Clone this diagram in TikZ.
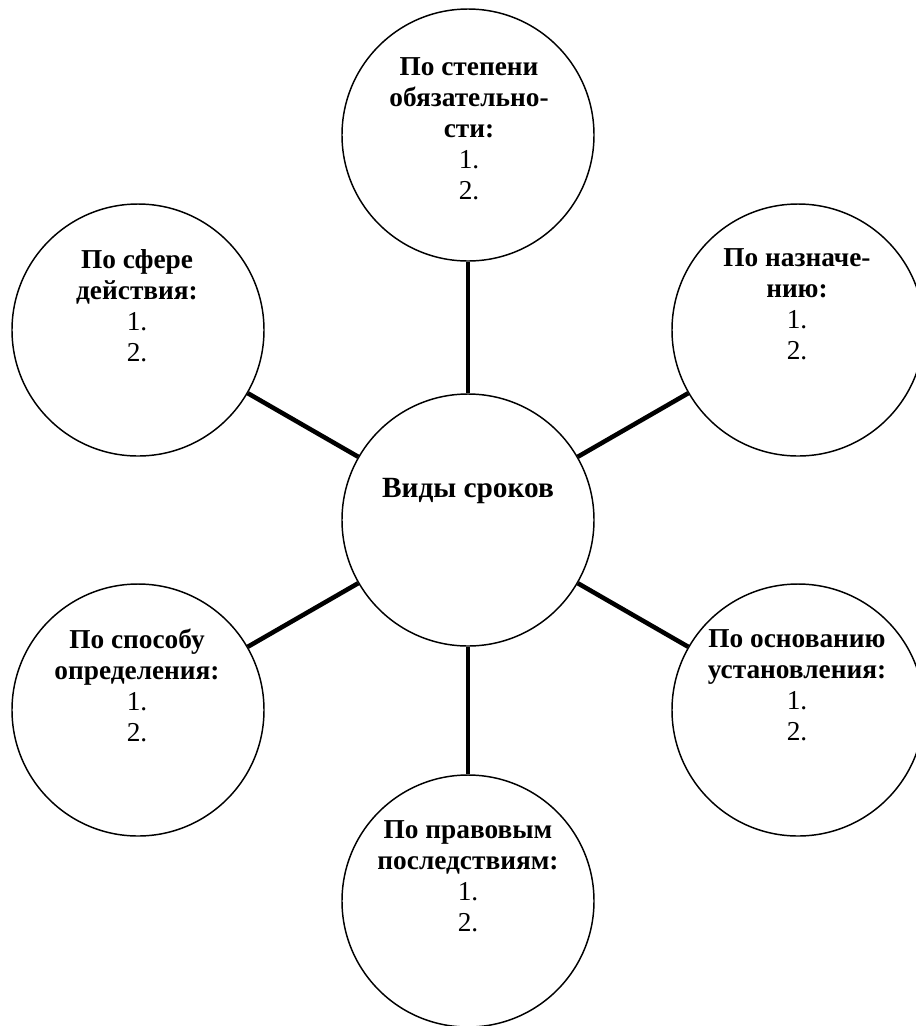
\documentclass[tikz,border=0pt]{standalone}
\usepackage{fontspec}
\setmainfont{Liberation Serif}
\newfontfamily\tnr{Liberation Serif}
\begin{document}
\begin{tikzpicture}[x=0.75pt,y=-0.75pt,
  ring/.style={draw=black,line width=1.1pt,circle,inner sep=0pt,minimum size=189pt},
  link/.style={draw=black,line width=3.4pt},
  txt/.style={align=center,inner sep=0pt,font=\tnr\fontsize{20.5}{23.3}\selectfont}]
\useasboundingbox (0,0) rectangle (916,1026);
\node[ring] (top) at (468,135) {};
\node[ring] (tl) at (138,330) {};
\node[ring] (tr) at (798,330) {};
\node[ring] (c) at (468,520) {};
\node[ring] (bl) at (138,710) {};
\node[ring] (br) at (798,710) {};
\node[ring] (b) at (468,901) {};
\foreach \n in {top,tl,tr,bl,br,b} \draw[link] (c) -- (\n);
\node[txt] (ttop) at (469,129) {\textbf{По степени}\\\textbf{обязательно-}\\\textbf{сти:}\\1.\\2.};
\node[txt] (ttl) at (137,306) {\textbf{По сфере}\\\textbf{действия:}\\1.\\2.};
\node[txt] (ttr) at (797,304) {\textbf{По назначе-}\\\textbf{нию:}\\1.\\2.};
\node[txt,font=\tnr\fontsize{22}{25}\selectfont] (tc) at (468,491) {\textbf{Виды сроков}};
\node[txt] (tbl) at (137,685) {\textbf{По способу}\\\textbf{определения:}\\1.\\2.};
\node[txt] (tbr) at (797,685) {\textbf{По основанию}\\\textbf{установления:}\\1.\\2.};
\node[txt] (tb) at (468,876) {\textbf{По правовым}\\\textbf{последствиям:}\\1.\\2.};
\end{tikzpicture}
\end{document}
